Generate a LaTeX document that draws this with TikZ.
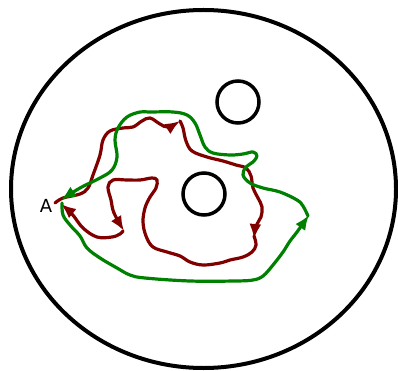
\documentclass[tikz,border=0pt]{standalone}
\usepackage{fontspec}
\setmainfont{DejaVu Sans}
\usetikzlibrary{arrows.meta}
\definecolor{pathred}{RGB}{128,0,0}
\definecolor{pathgreen}{RGB}{0,128,0}
\tikzset{
  hole/.style={draw=black, line width=3.5pt},
  redpath/.style={draw=pathred, line width=3.2pt, line cap=round, line join=round, -{Latex[length=15pt,width=12pt]}},
  greenpath/.style={draw=pathgreen, line width=3.2pt, line cap=round, line join=round, -{Latex[length=15pt,width=12pt]}},
  lbl/.style={font=\fontsize{18}{20}\selectfont, inner sep=0pt}
}
\begin{document}
\begin{tikzpicture}[x=1pt,y=-1pt]
\useasboundingbox (0,0) rectangle (398,371);
% outer boundary and holes
\draw[line width=4pt] (203.5,189) ellipse [x radius=192.5, y radius=179];
\draw[hole] (238,102) circle [radius=21];
\draw[hole] (204,194) circle [radius=21];
% label
\node[lbl] (A) at (46,206) {A};
% red loop
\draw[redpath] plot[smooth, tension=0.6] coordinates {
  (55,203) (63,198) (80,194) (88,188) (93,175) (100,155) (103,140) (110,131)
  (123,128) (133,127) (142,121) (150,118) (160,124) (168,127) (180,121)};
\draw[redpath] plot[smooth, tension=0.6] coordinates {
  (180,121) (183,128) (186,141) (192,151) (207,157) (223,161) (236,165)
  (246,168) (251,176) (253,188) (258,198) (262,207) (261,217) (256,226) (254,239)};
\draw[redpath] plot[smooth, tension=0.6] coordinates {
  (254,236) (256,245) (252,252) (243,257) (230,260) (220,263) (203,265)
  (190,262) (180,256) (167,252) (153,247) (146,236) (143,222) (145,208)
  (150,197) (156,188) (157,180) (152,178) (140,180) (127,180) (113,180)
  (108,187) (111,200) (114,213) (124,231)};
\draw[redpath] plot[smooth, tension=0.6] coordinates {
  (123,231) (120,234) (112,237) (97,237) (83,228) (72,214) (61,204)};
% green loop
\draw[greenpath] plot[smooth, tension=0.6] coordinates {
  (62,203) (63,215) (70,225) (80,236) (87,248) (100,258) (117,268) (130,275)
  (145,278) (190,281) (235,281) (253,280) (263,276) (273,265) (283,252)
  (290,241) (297,232) (309,215)};
\draw[greenpath] plot[smooth, tension=0.6] coordinates {
  (308,216) (303,206) (297,200) (280,192) (263,188) (250,183) (243,175)
  (246,167) (253,162) (257,156) (253,152) (243,154) (230,155) (213,153)
  (205,147) (200,135) (195,123) (187,115) (173,112) (150,112) (140,112)
  (127,117) (118,128) (115,140) (117,157) (112,170) (100,178) (80,188) (61,200)};
\end{tikzpicture}
\end{document}
